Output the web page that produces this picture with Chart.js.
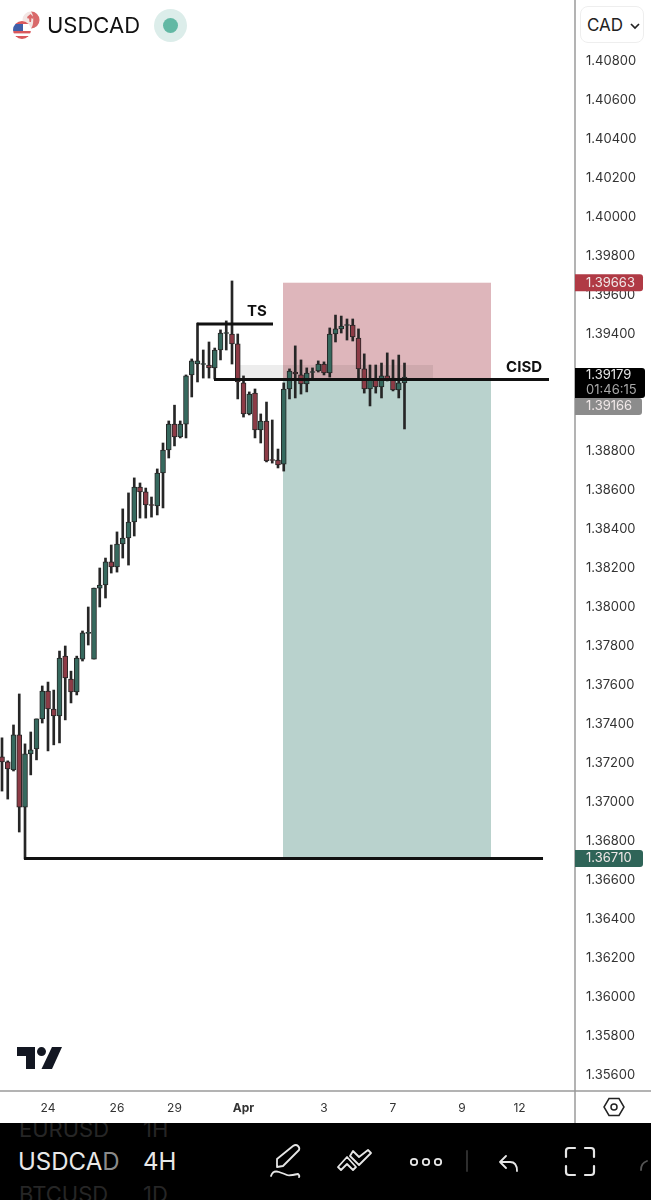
<!DOCTYPE html>
<html>
<head>
<meta charset="utf-8">
<title>USDCAD</title>
<script src="https://cdn.jsdelivr.net/npm/chart.js@4"></script>
<style>
  html, body { margin: 0; padding: 0; background: #fff; }
  #wrap { position: relative; width: 651px; height: 1200px; overflow: hidden; font-family: Inter, "Noto Sans", sans-serif; }
  canvas { position: absolute; left: 0; top: 0; }
  .abs { position: absolute; }
  #symbol { left: 47px; top: 11px; font-size: 22px; line-height: 28px; color: #111; }
  #cad { left: 580px; top: 6px; width: 64px; height: 37px; border: 1px solid #eee; border-radius: 8px; box-sizing: border-box; background: #fff; font-size: 17px; line-height: 36px; color: #222; padding-left: 6px; }
  #footer { left: 0; top: 1123px; width: 651px; height: 77px; background: #000; overflow: hidden; }
  #footer div { position: absolute; white-space: nowrap; }
  .main { color: #e8e8e8; font-size: 24px; line-height: 30px; }
  .dim { color: #262626; font-size: 22px; line-height: 26px; }
</style>
</head>
<body>
<div id="wrap">
  <canvas id="chart" width="651" height="1200"></canvas>

  <svg class="abs" style="left:12px;top:11px" width="30" height="30" viewBox="0 0 30 30">
    <circle cx="19" cy="9" r="8.5" fill="#f3e6e4"/>
    <path d="M19 .5a8.5 8.5 0 0 1 0 17c3-3 3-14 0-17z" fill="#d9696a"/>
    <path d="M15 6l1 2 1-1 .5 4 1.5 0 .5-4 1 1 1-2-3-3z" fill="#d9696a"/>
    <clipPath id="us"><circle cx="10" cy="19" r="9"/></clipPath>
    <g clip-path="url(#us)">
      <rect x="0" y="10" width="20" height="18" fill="#fff"/>
      <rect x="0" y="20" width="20" height="2.4" fill="#d9585c"/>
      <rect x="0" y="25" width="20" height="3" fill="#d9585c"/>
      <rect x="0" y="10" width="20" height="3" fill="#d9585c"/>
      <rect x="0" y="13" width="11" height="7" fill="#3f5fa8"/>
    </g>
  </svg>
  <div id="symbol" class="abs">USDCAD</div>
  <svg class="abs" style="left:154px;top:9px" width="33" height="33" viewBox="0 0 33 33">
    <circle cx="16.5" cy="16.5" r="16.5" fill="#dcedea"/>
    <circle cx="16.5" cy="16.5" r="7.5" fill="#62b8a4"/>
  </svg>
  <div id="cad" class="abs">CAD
    <svg class="abs" style="left:49px;top:15px" width="10" height="8" viewBox="0 0 10 8"><path d="M1 2l4 4 4-4" fill="none" stroke="#222" stroke-width="1.7"/></svg>
  </div>

  <svg class="abs" style="left:17px;top:1047px" width="45" height="22" viewBox="0 0 45 22">
    <path d="M0 0H18V22H9V9H0Z" fill="#131722"/>
    <circle cx="24.5" cy="4.6" r="4.5" fill="#131722"/>
    <path d="M35 0H45L35 22H24.5Z" fill="#131722"/>
  </svg>

  <svg class="abs" style="left:603px;top:1096px" width="22" height="22" viewBox="0 0 22 22">
    <path d="M6 2.5H16L21 11L16 19.5H6L1 11Z" fill="none" stroke="#222" stroke-width="1.5"/>
    <circle cx="11" cy="11" r="3" fill="none" stroke="#222" stroke-width="1.5"/>
  </svg>

  <div id="footer" class="abs">
    <div class="dim" style="left:19px;top:-7px">EURUSD</div>
    <div class="dim" style="left:143px;top:-7px">1H</div>
    <div class="main" style="left:18px;top:24px">USDCA<span style="color:#8a8a8a">D</span></div>
    <div class="main" style="left:143px;top:24px">4H</div>
    <div class="dim" style="left:19px;top:58px">BTCUSD</div>
    <div class="dim" style="left:143px;top:58px">1D</div>
    <svg class="abs" style="left:0;top:0" width="651" height="77" viewBox="0 0 651 77" fill="none" stroke="#e6e6e6" stroke-width="1.8" stroke-linecap="round" stroke-linejoin="round">
      <path d="M277 36L293 23q3-2 5 0t1 4L283 43l-6 1z"/>
      <path d="M271 53q2-6 8-4t8 3t11-1q2 2 1 3"/>
      <path d="M338 44l9-10 9 10-3 3-6-6-6 6zM353 28l6 6 9-7 3 3-12 12-9-9z"/>
      <circle cx="414" cy="39" r="3.2"/><circle cx="426" cy="39" r="3.2"/><circle cx="438" cy="39" r="3.2"/>
      <path d="M467 28v20" stroke="#333"/>
      <path d="M506 33l-6 6 6 6M500 39h10q7 0 7 9"/>
      <path d="M566 34v-6q0-3 3-3h6M585 25h6q3 0 3 3v6M566 43v6q0 3 3 3h6M585 52h6q3 0 3-3v-6" stroke-width="2.2"/>
      <path d="M641 47q0-7 6-9" stroke="#555"/>
    </svg>
  </div>
</div>

<script>
// candles, one entry per 4h bar
const opens = [1.37231,1.37206,1.37165,1.37344,1.36974,1.37247,1.37272,1.37426,1.37569,1.37477,1.37441,1.37748,1.37630,1.37564,1.37733,1.37865,1.37733,1.38097,1.38113,1.38231,1.38205,1.38323,1.38354,1.38436,1.38615,1.38590,1.38525,1.38518,1.38687,1.38805,1.38938,1.38872,1.38938,1.39190,1.39246,1.39244,1.39241,1.39226,1.39318,1.39403,1.39400,1.39349,1.39149,1.38990,1.39097,1.38908,1.38954,1.38756,1.38754,1.38733,1.39118,1.39205,1.39190,1.39144,1.39203,1.39210,1.39246,1.39200,1.39400,1.39426,1.39444,1.39446,1.39379,1.39221,1.39118,1.39169,1.39128,1.39185,1.39174,1.39113,1.39149];
const highs = [1.37329,1.37211,1.37395,1.37554,1.37298,1.37359,1.37426,1.37595,1.37615,1.37574,1.37774,1.37800,1.37671,1.37748,1.37877,1.38000,1.38097,1.38200,1.38251,1.38318,1.38385,1.38503,1.38585,1.38662,1.38636,1.38610,1.38564,1.38708,1.38841,1.38954,1.39035,1.38954,1.39190,1.39272,1.39456,1.39318,1.39359,1.39328,1.39421,1.39467,1.39672,1.39400,1.39185,1.39103,1.39118,1.38990,1.39051,1.38959,1.38810,1.39149,1.39221,1.39339,1.39267,1.39226,1.39226,1.39262,1.39257,1.39431,1.39497,1.39492,1.39477,1.39477,1.39426,1.39298,1.39241,1.39241,1.39251,1.39303,1.39267,1.39292,1.39251];
const lows = [1.37056,1.37015,1.37159,1.36846,1.36708,1.37139,1.37216,1.37405,1.37262,1.37293,1.37303,1.37421,1.37508,1.37549,1.37723,1.37805,1.37733,1.38000,1.38046,1.38174,1.38179,1.38251,1.38215,1.38364,1.38456,1.38456,1.38461,1.38472,1.38508,1.38764,1.38826,1.38867,1.38867,1.39077,1.39154,1.39174,1.39174,1.39169,1.39267,1.39318,1.39246,1.39067,1.38974,1.38985,1.38867,1.38841,1.38744,1.38738,1.38713,1.38697,1.39067,1.39072,1.39092,1.39103,1.39174,1.39205,1.39190,1.39179,1.39359,1.39405,1.39369,1.39364,1.39174,1.39097,1.39031,1.39097,1.39072,1.39159,1.39108,1.39072,1.38913];
const closes = [1.37206,1.37170,1.37344,1.36974,1.37247,1.37267,1.37426,1.37569,1.37477,1.37441,1.37738,1.37636,1.37564,1.37738,1.37867,1.37870,1.38097,1.38113,1.38231,1.38205,1.38323,1.38354,1.38436,1.38615,1.38590,1.38523,1.38521,1.38687,1.38805,1.38938,1.38872,1.38938,1.39185,1.39262,1.39262,1.39248,1.39226,1.39318,1.39405,1.39407,1.39349,1.39154,1.38990,1.39092,1.38908,1.38954,1.38749,1.38752,1.38728,1.39118,1.39210,1.39195,1.39144,1.39200,1.39207,1.39246,1.39200,1.39400,1.39426,1.39441,1.39448,1.39385,1.39221,1.39118,1.39169,1.39128,1.39185,1.39169,1.39113,1.39149,1.39179];

// 1.392 and 1.390 are hidden behind the current price tags
const yTicks = [1.408,1.406,1.404,1.402,1.400,1.398,1.396,1.394,1.388,1.386,1.384,1.382,1.380,1.378,1.376,1.374,1.372,1.370,1.368,1.366,1.364,1.362,1.360,1.358,1.356];
const xTickBars = [8, 20, 30, 42, 56, 68, 80, 90];
const xTickLabels = ['24', '26', '29', 'Apr', '3', '7', '9', '12'];

// drawings on the chart, x in bars, y in price
const tsLine = [[33.91, 1.39451], [47.13, 1.39451]];
const cisdLine = [[36.87, 1.39166], [95.13, 1.39166]];
const lowLine = [[3.83, 1.36710], [94.09, 1.36710]];
const stopZone = [48.87, 85.04, 1.39663, 1.39166];
const targetZone = [48.87, 85.04, 1.39166, 1.36710];
const greyZone = [41.39, 74.96, 1.39241, 1.39166];

const GREEN = '#36695e';
const RED = '#8d3b46';
const DARK = '#262626';

const bars = opens.map((o, i) => i);

function toPoints(line) {
    return line.map(p => ({ x: p[0], y: p[1] }));
}

function noMargins(s) {
    s.paddingTop = 0;
    s.paddingBottom = 0;
    s.paddingLeft = 0;
    s.paddingRight = 0;
}

const overlays = {
    id: 'overlays',
    beforeDatasetsDraw(chart) {
        const { ctx, scales: { x, y } } = chart;
        const box = (z, color) => {
            ctx.fillStyle = color;
            ctx.fillRect(x.getPixelForValue(z[0]), y.getPixelForValue(z[2]),
                x.getPixelForValue(z[1]) - x.getPixelForValue(z[0]),
                y.getPixelForValue(z[3]) - y.getPixelForValue(z[2]));
        };
        box(stopZone, '#deb6bb');
        box(targetZone, '#b9d2cd');
        box(greyZone, 'rgba(0,0,0,0.07)');
    },
    afterDraw(chart) {
        const { ctx, scales: { x, y } } = chart;
        ctx.save();
        // axis borders
        ctx.strokeStyle = '#9a9a9a';
        ctx.lineWidth = 1.5;
        ctx.beginPath();
        ctx.moveTo(575, 0); ctx.lineTo(575, 1123);
        ctx.moveTo(0, 1091); ctx.lineTo(651, 1091);
        ctx.stroke();

        // line captions
        ctx.fillStyle = '#111';
        ctx.font = 'bold 15px Inter, sans-serif';
        ctx.textAlign = 'center';
        ctx.textBaseline = 'middle';
        ctx.fillText('TS', x.getPixelForValue(44.35), y.getPixelForValue(1.39513));
        ctx.fillText('CISD', x.getPixelForValue(90.8), y.getPixelForValue(1.39228));

        // price tags
        const tag = (price, h, w, color, text, sub) => {
            const py = y.getPixelForValue(price);
            ctx.fillStyle = color;
            ctx.beginPath();
            ctx.roundRect(575, py - h / 2, w, h, [0, 3, 3, 0]);
            ctx.fill();
            ctx.font = '13px Inter, sans-serif';
            ctx.textAlign = 'left';
            if (sub) {
                ctx.fillStyle = '#e6e6e6';
                ctx.fillText(text, 586, py - 7.5);
                ctx.fillStyle = '#a8a8a8';
                ctx.fillText(sub, 586, py + 7.5);
            } else {
                ctx.fillStyle = '#f0e8e8';
                ctx.fillText(text, 586, py);
            }
        };
        tag(1.39663, 17, 68, '#b03a45', '1.39663');
        tag(1.36710, 17, 68, '#2f6458', '1.36710');
        // the two current price tags are pushed apart so they do not overlap
        tag(1.39028, 17, 67, '#8c8c8c', '1.39166');
        tag(1.39149, 30, 70, '#000', '1.39179', '01:46:15');
        ctx.restore();
    }
};

new Chart(document.getElementById('chart'), {
    type: 'bar',
    data: {
        datasets: [
            { type: 'line', data: toPoints(tsLine), borderColor: '#111', borderWidth: 3, pointRadius: 0, order: 0 },
            { type: 'line', data: toPoints(cisdLine), borderColor: '#111', borderWidth: 3, pointRadius: 0, order: 0 },
            { type: 'line', data: toPoints(lowLine), borderColor: '#111', borderWidth: 3, pointRadius: 0, order: 0 },
            {
                data: bars.map(i => ({ x: i, y: [Math.min(opens[i], closes[i]), Math.max(opens[i], closes[i])] })),
                backgroundColor: bars.map(i => closes[i] >= opens[i] ? GREEN : RED),
                borderColor: DARK, borderWidth: 1, borderSkipped: false,
                barThickness: 5, grouped: false, order: 1
            },
            {
                data: bars.map(i => ({ x: i, y: [lows[i], highs[i]] })),
                backgroundColor: DARK, barThickness: 2, grouped: false, order: 2
            }
        ]
    },
    options: {
        responsive: false,
        animation: false,
        layout: { padding: { bottom: 77 } },
        plugins: { legend: { display: false }, tooltip: { enabled: false } },
        scales: {
            x: {
                type: 'linear',
                bounds: 'data',
                offset: false,
                min: -0.348,
                max: 99.652,
                grid: { display: false, drawTicks: false, offset: false },
                border: { display: false },
                afterBuildTicks: s => { s.ticks = xTickBars.map(v => ({ value: v })); },
                afterFit: s => { s.height = 32; noMargins(s); },
                ticks: {
                    autoSkip: false,
                    maxRotation: 0,
                    padding: 10,
                    color: '#333',
                    font: c => ({ family: 'Inter', size: 12, weight: xTickLabels[c.index] === 'Apr' ? 'bold' : 'normal' }),
                    callback: (v, i) => xTickLabels[i]
                }
            },
            y: {
                position: 'right',
                bounds: 'data',
                min: 1.355179,
                max: 1.411128,
                grid: { display: false, drawTicks: false },
                border: { display: false },
                afterBuildTicks: s => { s.ticks = yTicks.map(v => ({ value: v })); },
                afterFit: s => { s.width = 76; noMargins(s); },
                ticks: {
                    autoSkip: false,
                    padding: 11,
                    color: '#333',
                    font: { family: 'Inter', size: 13 },
                    callback: v => v.toFixed(5)
                }
            }
        }
    },
    plugins: [overlays]
});
</script>
</body>
</html>
